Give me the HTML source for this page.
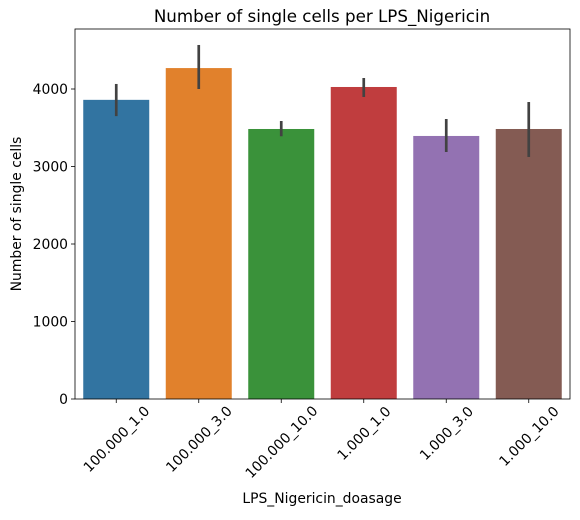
<!DOCTYPE html>
<html><head><meta charset="utf-8"><style>
body{margin:0;background:#fff;font-family:"DejaVu Sans","Liberation Sans",sans-serif}
</style></head><body>
<svg id="chart" width="580" height="516" xmlns="http://www.w3.org/2000/svg" font-family="DejaVu Sans, Liberation Sans, sans-serif">
<text x="322" y="22" font-size="16.7" text-anchor="middle">Number of single cells per LPS_Nigericin</text>
<text x="322" y="503" font-size="13.9" text-anchor="middle">LPS_Nigericin_doasage</text>
<text transform="translate(21,214) rotate(-90)" font-size="13.9" text-anchor="middle">Number of single cells</text>
<g id="plot"></g>
</svg>
<script>
const categories=["100.000_1.0","100.000_3.0","100.000_10.0","1.000_1.0","1.000_3.0","1.000_10.0"];
const values=[3860,4270,3484,4026,3394,3484];
const errLow=[3650,4000,3390,3897,3187,3123];
const errHigh=[4065,4568,3587,4142,3613,3832];
const colors=["#3274a1","#e1812c","#3a923a","#c03d3e","#9372b2","#845b53"];
const yTicks=[0,1000,2000,3000,4000];
const L=75,R=570,T=29,B=399,yMax=(399-29)/77.5*1000;
const ns="http://www.w3.org/2000/svg";
const g=document.getElementById('plot');
const band=(R-L)/categories.length;
const x=i=>L+band*(i+0.5);
const y=v=>B-(v/yMax)*(B-T);
function mk(t,a){const e=document.createElementNS(ns,t);for(const k in a)e.setAttribute(k,a[k]);g.appendChild(e);return e;}
categories.forEach((c,i)=>{
  const r=mk('rect',{x:x(i)-band*0.4,y:y(values[i]),width:band*0.8,height:B-y(values[i]),fill:colors[i]});
  
  
  const e=mk('line',{x1:x(i),x2:x(i),y1:y(errLow[i]),y2:y(errHigh[i]),stroke:'#424242','stroke-width':2.7});
  
  
  const tk=mk('line',{x1:x(i),x2:x(i),y1:B,y2:B+4,stroke:'#000','stroke-width':0.8});
  
  
  const half=c.length*4.1*0.707;
  const t=mk('text',{x:0,y:5,'font-size':13.9,'text-anchor':'middle',transform:`translate(${x(i)} ${B+8+half}) rotate(-45)`});
  t.textContent=c;
  
  
});
yTicks.forEach(v=>{
  const tk=mk('line',{x1:L-4,x2:L,y1:y(v),y2:y(v),stroke:'#000','stroke-width':0.8});
  
  
  const t=mk('text',{x:L-7,y:y(v)+5,'font-size':13.9,'text-anchor':'end'});
  t.textContent=v;
  
  
});
const fr=mk('rect',{x:L,y:T,width:R-L,height:B-T,fill:'none',stroke:'#000','stroke-width':0.8});


</script>
</body></html>
